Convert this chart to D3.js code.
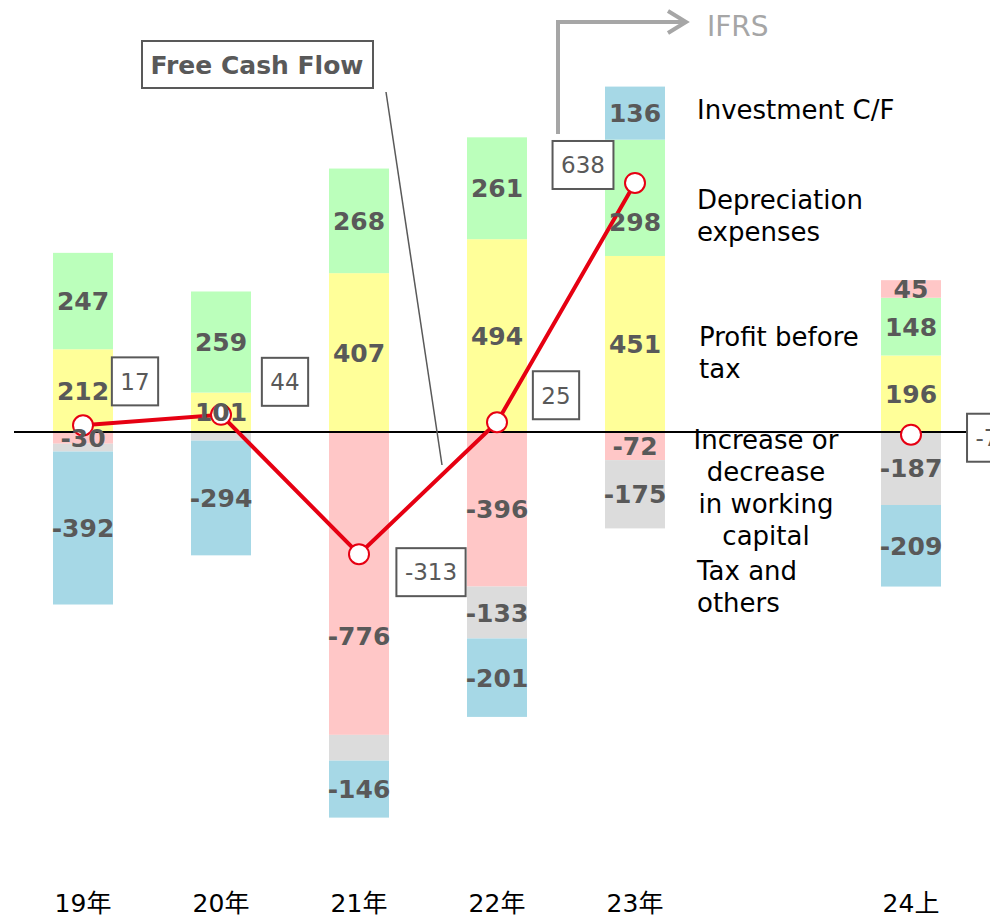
<!DOCTYPE html>
<html>
<head>
<meta charset="utf-8">
<script src="https://cdn.jsdelivr.net/npm/d3@7"></script>
<style>
  body { margin: 0; background: #fff; }
  svg { display: block; font-family: "DejaVu Sans", "Noto Sans CJK JP", sans-serif; }
</style>
</head>
<body>
<script>
// periods (the blank slot holds the legend text)
const periods = ["19年", "20年", "21年", "22年", "23年", "", "24上"];
const barPeriods = ["19年", "20年", "21年", "22年", "23年", "24上"];

const profitBeforeTax = [212, 101, 407, 494, 451, 196];
const depreciation = [247, 259, 268, 261, 298, 148];
const workingCapital = [-30, 0, -776, -396, -72, 45];
const taxOthers = [-20, -22, -66, -133, -175, -187];
const investmentCF = [-392, -294, -146, -201, 136, -209];
// null = no value for the blank slot, so the line breaks there
const freeCashFlow = [17, 44, -313, 25, 638, null, -7];

// segments that carry no label in the original
const hiddenLabels = ["19年:tax", "20年:tax", "21年:tax"];

const width = 990, height = 915;

const svg = d3.select("body").append("svg")
  .attr("width", width)
  .attr("height", height);

const x = d3.scalePoint().domain(periods).range([83, 911]);
const y = d3.scaleLinear().domain([-1000, 1000]).range([432 + 390.3, 432 - 390.3]);
const barW = 60;

const keys = ["profit", "dep", "wc", "tax", "inv"];
const colors = {
  profit: "#ffff99",
  dep: "#bbffbb",
  wc: "#ffc7c7",
  tax: "#dcdcdc",
  inv: "#a6d8e6"
};

const rows = barPeriods.map((p, i) => ({
  period: p,
  profit: profitBeforeTax[i],
  dep: depreciation[i],
  wc: workingCapital[i],
  tax: taxOthers[i],
  inv: investmentCF[i]
}));

const stacked = d3.stack()
  .keys(keys)
  .offset(d3.stackOffsetDiverging)(rows);

const series = svg.append("g").selectAll("g")
  .data(stacked)
  .join("g")
  .attr("fill", d => colors[d.key]);

series.selectAll("rect")
  .data(d => d.filter(s => s.data[d.key] !== 0))
  .join("rect")
  .attr("x", d => x(d.data.period) - barW / 2)
  .attr("width", barW)
  .attr("y", d => y(d[1]))
  .attr("height", d => y(d[0]) - y(d[1]));

// zero line
svg.append("line")
  .attr("x1", 14).attr("x2", width)
  .attr("y1", y(0)).attr("y2", y(0))
  .attr("stroke", "#000")
  .attr("stroke-width", 2);

// free cash flow line
const fcf = periods.map((p, i) => ({ period: p, value: freeCashFlow[i] }));
const fcfPts = fcf.filter(d => d.value != null);

svg.append("path")
  .datum(fcf)
  .attr("fill", "none")
  .attr("stroke", "#e60012")
  .attr("stroke-width", 4)
  .attr("d", d3.line()
    .defined(d => d.value != null)
    .x(d => x(d.period))
    .y(d => y(d.value)));

svg.append("g").selectAll("circle")
  .data(fcfPts)
  .join("circle")
  .attr("cx", d => x(d.period))
  .attr("cy", d => y(d.value))
  .attr("r", 10)
  .attr("fill", "#fff")
  .attr("stroke", "#e60012")
  .attr("stroke-width", 2);

// segment value labels (drawn over the line, as in the original)
const labelNudge = { "23年:dep": 24, "21年:wc": 53 };
const labelLayer = svg.append("g");
stacked.forEach(s => {
  labelLayer.append("g").selectAll("text")
    .data(s.filter(d => d.data[s.key] !== 0 && !hiddenLabels.includes(d.data.period + ":" + s.key)))
    .join("text")
    .attr("x", d => x(d.data.period))
    .attr("y", d => (y(d[0]) + y(d[1])) / 2 + (labelNudge[d.data.period + ":" + s.key] || 0))
    .attr("dy", "0.36em")
    .attr("text-anchor", "middle")
    .attr("fill", "#595959")
    .attr("font-size", 25)
    .attr("font-weight", "bold")
    .text(d => d.data[s.key]);
});

// fcf value boxes, placed beside each point
const boxOffset = {
  "19年": [52, -44], "20年": [64, -33], "21年": [72, 18],
  "22年": [59, -27], "23年": [-52, -18], "24上": [76, 3]
};
const boxes = svg.append("g").selectAll("g")
  .data(fcfPts)
  .join("g")
  .attr("transform", d => {
    const o = boxOffset[d.period];
    return `translate(${x(d.period) + o[0]},${y(d.value) + o[1]})`;
  });
boxes.append("text")
  .attr("text-anchor", "middle")
  .attr("dy", "0.36em")
  .attr("fill", "#595959")
  .attr("font-size", 23)
  .text(d => d.value);
boxes.insert("rect", "text")
  .each(function() {
    const bb = this.parentNode.querySelector("text").getBBox();
    const w = bb.width + 17;
    d3.select(this)
      .attr("x", -w / 2).attr("y", -24)
      .attr("width", w).attr("height", 48);
  })
  .attr("fill", "#fff")
  .attr("stroke", "#595959")
  .attr("stroke-width", 2);

// title box and leader line
svg.append("line")
  .attr("x1", 386).attr("y1", 92)
  .attr("x2", 442).attr("y2", 465)
  .attr("stroke", "#595959")
  .attr("stroke-width", 1.5);
svg.append("rect")
  .attr("x", 142).attr("y", 41)
  .attr("width", 231).attr("height", 47)
  .attr("fill", "#fff")
  .attr("stroke", "#595959")
  .attr("stroke-width", 2);
svg.append("text")
  .attr("x", 257).attr("y", 65)
  .attr("dy", "0.36em")
  .attr("text-anchor", "middle")
  .attr("fill", "#595959")
  .attr("font-size", 25)
  .attr("font-weight", "bold")
  .text("Free Cash Flow");

// IFRS arrow
svg.append("path")
  .attr("d", "M558,134 V22 H685 M668,11 L686,22 L668,33")
  .attr("fill", "none")
  .attr("stroke", "#a6a6a6")
  .attr("stroke-width", 4);
svg.append("text")
  .attr("x", 707).attr("y", 26)
  .attr("dy", "0.36em")
  .attr("fill", "#a6a6a6")
  .attr("font-size", 28)
  .text("IFRS");

// legend labels
const legendItems = [
  { lines: ["Investment C/F"], x: 697, y: 110, anchor: "start" },
  { lines: ["Depreciation", "expenses"], x: 697, y: 200, anchor: "start" },
  { lines: ["Profit before", "tax"], x: 699, y: 337, anchor: "start" },
  { lines: ["Increase or", "decrease", "in working", "capital"], x: 766, y: 440, anchor: "middle" },
  { lines: ["Tax and", "others"], x: 697, y: 571, anchor: "start" }
];
const legend = svg.append("g").selectAll("text")
  .data(legendItems)
  .join("text")
  .attr("x", d => d.x)
  .attr("y", d => d.y)
  .attr("text-anchor", d => d.anchor)
  .attr("font-size", 26)
  .attr("fill", "#000");
legend.selectAll("tspan")
  .data(d => d.lines.map((l, i) => ({ l, i, x: d.x })))
  .join("tspan")
  .attr("x", d => d.x)
  .attr("dy", d => d.i === 0 ? "0.36em" : "1.23em")
  .text(d => d.l);

// period labels
svg.append("g").selectAll("text")
  .data(barPeriods)
  .join("text")
  .attr("x", d => x(d))
  .attr("y", 903)
  .attr("dy", "0.36em")
  .attr("text-anchor", "middle")
  .attr("font-size", 25)
  .attr("fill", "#000")
  .text(d => d);
</script>
</body>
</html>
